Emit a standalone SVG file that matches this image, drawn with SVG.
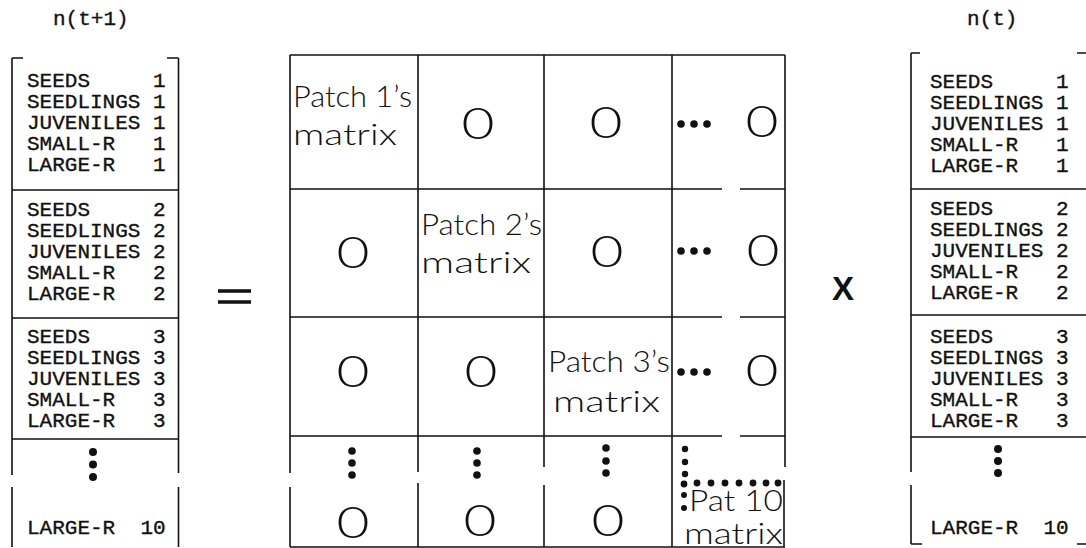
<svg xmlns="http://www.w3.org/2000/svg" width="1086" height="548" viewBox="0 0 1086 548">
<style>
.ln{stroke:#111;stroke-width:1.6;fill:none}
.mono{font-family:"Liberation Mono","DejaVu Sans Mono",monospace;font-size:21px;font-weight:normal;fill:#111;white-space:pre;stroke:#111;stroke-width:0.35}
.pt{font-family:Lato,"Open Sans","Liberation Sans",sans-serif;font-weight:300;font-size:30px;fill:#111}
.z{font-family:Lato,"Open Sans","Liberation Sans",sans-serif;font-weight:300;font-size:44px;fill:#111;text-anchor:middle}
.dot{fill:#111}
.op{font-family:"Liberation Sans",Arial,sans-serif;font-size:33px;font-weight:bold;fill:#111}
</style>
<rect width="1086" height="548" fill="#fff"/>

<g id="vec-left">
  <text class="mono" x="53" y="25">n(t+1)</text>
  <path class="ln" d="M12,58V475M12,487V547M178.5,58V473M178.5,487V547M12,58H23M167,58H178.5M12,190H178.5M12,318H178.5M12,439H178.5"/>
  <text class="mono" x="27" y="87" xml:space="preserve">SEEDS     1</text>
  <text class="mono" x="27" y="108" xml:space="preserve">SEEDLINGS 1</text>
  <text class="mono" x="27" y="129" xml:space="preserve">JUVENILES 1</text>
  <text class="mono" x="27" y="150" xml:space="preserve">SMALL-R   1</text>
  <text class="mono" x="27" y="171" xml:space="preserve">LARGE-R   1</text>
  <text class="mono" x="27" y="216" xml:space="preserve">SEEDS     2</text>
  <text class="mono" x="27" y="237" xml:space="preserve">SEEDLINGS 2</text>
  <text class="mono" x="27" y="258" xml:space="preserve">JUVENILES 2</text>
  <text class="mono" x="27" y="279" xml:space="preserve">SMALL-R   2</text>
  <text class="mono" x="27" y="300" xml:space="preserve">LARGE-R   2</text>
  <text class="mono" x="27" y="343" xml:space="preserve">SEEDS     3</text>
  <text class="mono" x="27" y="364" xml:space="preserve">SEEDLINGS 3</text>
  <text class="mono" x="27" y="385" xml:space="preserve">JUVENILES 3</text>
  <text class="mono" x="27" y="406" xml:space="preserve">SMALL-R   3</text>
  <text class="mono" x="27" y="427" xml:space="preserve">LARGE-R   3</text>
  <text class="mono" x="27" y="534" xml:space="preserve">LARGE-R  10</text>
  <circle class="dot" cx="93" cy="452" r="4"/>
  <circle class="dot" cx="93" cy="464.5" r="4"/>
  <circle class="dot" cx="93" cy="477" r="4"/>
</g>

<g id="equals">
  <path d="M218,291H251M218,302H251" stroke="#111" stroke-width="3.6" fill="none"/>
</g>

<g id="matrix">
  <path class="ln" d="M290,55H785M290,547H785M290,189H722M740,189H785M290,317H722M740,317H785M290,436H722M740,436H785M290,55V473M290,487V547M418,55V472M418,483V547M544,55V467M544,485V547M672,55V547M785,55V467M784,480V547"/>
  <text class="pt" x="293" y="107" textLength="119" lengthAdjust="spacingAndGlyphs">Patch 1’s</text>
  <text class="pt" x="293" y="145" textLength="104" lengthAdjust="spacingAndGlyphs">matrix</text>
  <text class="pt" x="421" y="235" textLength="121" lengthAdjust="spacingAndGlyphs">Patch 2’s</text>
  <text class="pt" x="421" y="273" textLength="110" lengthAdjust="spacingAndGlyphs">matrix</text>
  <text class="pt" x="548" y="372" textLength="122" lengthAdjust="spacingAndGlyphs">Patch 3’s</text>
  <text class="pt" x="553" y="412" textLength="107" lengthAdjust="spacingAndGlyphs">matrix</text>
  <text class="pt" x="689" y="511" font-size="23" textLength="94" lengthAdjust="spacingAndGlyphs">Pat 10</text>
  <text class="pt" x="684" y="544" font-size="21" textLength="99" lengthAdjust="spacingAndGlyphs">matrix</text>
  <g class="z">
    <text x="478" y="139" textLength="33" lengthAdjust="spacingAndGlyphs">0</text>
    <text x="606" y="138" textLength="33" lengthAdjust="spacingAndGlyphs">0</text>
    <text x="762" y="137" textLength="33" lengthAdjust="spacingAndGlyphs">0</text>
    <text x="353" y="268" textLength="33" lengthAdjust="spacingAndGlyphs">0</text>
    <text x="607" y="267" textLength="33" lengthAdjust="spacingAndGlyphs">0</text>
    <text x="763" y="266" textLength="33" lengthAdjust="spacingAndGlyphs">0</text>
    <text x="353" y="387" textLength="33" lengthAdjust="spacingAndGlyphs">0</text>
    <text x="481" y="387" textLength="33" lengthAdjust="spacingAndGlyphs">0</text>
    <text x="762" y="386" textLength="33" lengthAdjust="spacingAndGlyphs">0</text>
    <text x="353" y="538" textLength="33" lengthAdjust="spacingAndGlyphs">0</text>
    <text x="480" y="536" textLength="33" lengthAdjust="spacingAndGlyphs">0</text>
    <text x="608" y="536" textLength="33" lengthAdjust="spacingAndGlyphs">0</text>
  </g>
  <g class="dot">
    <circle cx="681" cy="124" r="3.8"/><circle cx="694" cy="124" r="3.8"/><circle cx="707" cy="124" r="3.8"/>
    <circle cx="681" cy="251" r="3.8"/><circle cx="694" cy="251" r="3.8"/><circle cx="707" cy="251" r="3.8"/>
    <circle cx="681" cy="372" r="3.8"/><circle cx="694" cy="372" r="3.8"/><circle cx="707" cy="372" r="3.8"/>
    <circle cx="352" cy="451" r="3.8"/><circle cx="352" cy="463" r="3.8"/><circle cx="352" cy="475" r="3.8"/>
    <circle cx="477" cy="451" r="3.8"/><circle cx="477" cy="463" r="3.8"/><circle cx="477" cy="475" r="3.8"/>
    <circle cx="606" cy="448" r="3.8"/><circle cx="606" cy="461" r="3.8"/><circle cx="606" cy="473" r="3.8"/>
    <circle cx="685" cy="449" r="3.2"/><circle cx="685" cy="462" r="3.2"/><circle cx="685" cy="474" r="3.2"/>
    <circle cx="684" cy="484" r="3.4"/><circle cx="697" cy="483" r="3.4"/><circle cx="711" cy="483" r="3.4"/><circle cx="725" cy="483" r="3.4"/><circle cx="739" cy="483" r="3.4"/><circle cx="753" cy="483" r="3.4"/><circle cx="766" cy="483" r="3.4"/><circle cx="778" cy="483" r="3.4"/>
    <circle cx="684" cy="495" r="3"/><circle cx="684" cy="508" r="3"/>
  </g>
</g>

<g id="times">
  <text class="op" x="832" y="300">X</text>
</g>

<g id="vec-right">
  <text class="mono" x="967" y="25">n(t)</text>
  <path class="ln" d="M911,53V472M911,485V544M911,53H920M1077,53H1086M911,544H922M1077,544H1086M911,189H1086M911,315H1086M911,437H1086"/>
  <text class="mono" x="930" y="88" xml:space="preserve">SEEDS     1</text>
  <text class="mono" x="930" y="109" xml:space="preserve">SEEDLINGS 1</text>
  <text class="mono" x="930" y="130" xml:space="preserve">JUVENILES 1</text>
  <text class="mono" x="930" y="151" xml:space="preserve">SMALL-R   1</text>
  <text class="mono" x="930" y="172" xml:space="preserve">LARGE-R   1</text>
  <text class="mono" x="930" y="215" xml:space="preserve">SEEDS     2</text>
  <text class="mono" x="930" y="236" xml:space="preserve">SEEDLINGS 2</text>
  <text class="mono" x="930" y="257" xml:space="preserve">JUVENILES 2</text>
  <text class="mono" x="930" y="278" xml:space="preserve">SMALL-R   2</text>
  <text class="mono" x="930" y="299" xml:space="preserve">LARGE-R   2</text>
  <text class="mono" x="930" y="343" xml:space="preserve">SEEDS     3</text>
  <text class="mono" x="930" y="364" xml:space="preserve">SEEDLINGS 3</text>
  <text class="mono" x="930" y="385" xml:space="preserve">JUVENILES 3</text>
  <text class="mono" x="930" y="406" xml:space="preserve">SMALL-R   3</text>
  <text class="mono" x="930" y="427" xml:space="preserve">LARGE-R   3</text>
  <text class="mono" x="930" y="534" xml:space="preserve">LARGE-R  10</text>
  <circle class="dot" cx="998" cy="449" r="4"/>
  <circle class="dot" cx="998" cy="461" r="4"/>
  <circle class="dot" cx="998" cy="473" r="4"/>
</g>

<g id="connectors"/>
</svg>
